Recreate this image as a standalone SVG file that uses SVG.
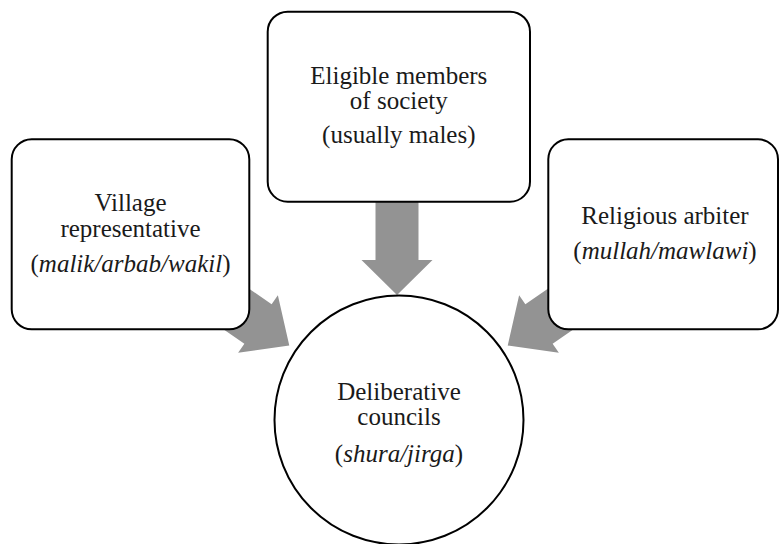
<svg xmlns="http://www.w3.org/2000/svg" width="780" height="544" viewBox="0 0 780 544">
<style>
.box{fill:#fff;stroke:#000;stroke-width:2}
.arrow{fill:#939393;stroke:none}
.t{font-family:'Times New Roman','Liberation Serif',Times,'DejaVu Serif','Noto Serif',serif;font-size:25px;fill:#1a1a1a;text-anchor:middle}
.i{font-style:italic}
</style>
<defs>
<polygon id="arr" class="arrow" points="-120,-24 0,-24 0,-35 38,0 0,35 0,24 -120,24"/>
</defs>
<rect width="780" height="544" fill="#fff"/>
<g id="connectors">
<use href="#arr" transform="translate(258,324) rotate(34.6)"/>
<use href="#arr" transform="translate(539,324) rotate(145.4)"/>
<polygon class="arrow" points="375.5,190 418.5,190 418.5,260 432.5,260 397,295 361.5,260 375.5,260"/>
</g>
<g id="node-village">
<rect class="box" x="11.7" y="139.3" width="237.6" height="190" rx="20"/>
<text class="t" x="130.5" y="210.5">Village</text>
<text class="t" x="130.5" y="237">representative</text>
<text class="t" x="130.5" y="271.5">(<tspan class="i">malik/arbab/wakil</tspan>)</text>
</g>
<g id="node-eligible">
<rect class="box" x="267.7" y="11.7" width="262.3" height="190" rx="20"/>
<text class="t" x="398.8" y="84">Eligible members</text>
<text class="t" x="398.8" y="108.5">of society</text>
<text class="t" x="398.8" y="142.5">(usually males)</text>
</g>
<g id="node-religious">
<rect class="box" x="548.3" y="139.3" width="229.7" height="190" rx="20"/>
<text class="t" x="665" y="224.3">Religious arbiter</text>
<text class="t" x="665" y="259.3">(<tspan class="i">mullah/mawlawi</tspan>)</text>
</g>
<g id="node-councils">
<circle class="box" cx="399" cy="420" r="124.5"/>
<text class="t" x="399" y="400">Deliberative</text>
<text class="t" x="399" y="425">councils</text>
<text class="t" x="399" y="461.7">(<tspan class="i">shura/jirga</tspan>)</text>
</g>
</svg>
